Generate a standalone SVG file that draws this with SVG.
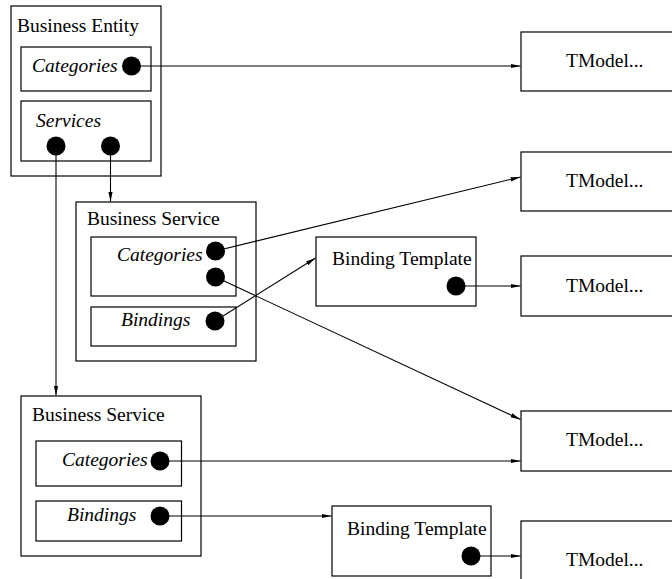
<svg xmlns="http://www.w3.org/2000/svg" width="672" height="579" viewBox="0 0 672 579">
<defs>
<marker id="ah" markerWidth="10" markerHeight="6" refX="10" refY="3" orient="auto" markerUnits="userSpaceOnUse">
<path d="M0,0.8 L10,3 L0,5.2 Z" fill="#000"/>
</marker>
<style>
rect{fill:#fff;stroke:#000;stroke-width:1.2}
.t{font-family:"Liberation Serif","Times New Roman",serif;font-size:19.5px;fill:#000}
.i{font-style:italic}
.d{fill:#000}
.c line{stroke:#000;stroke-width:1.1;marker-end:url(#ah)}
</style>
</defs>
<rect x="0" y="0" width="672" height="579" style="fill:#fff;stroke:none"/>
<g id="business-entity">
<rect x="11" y="6" width="150" height="170"/>
<text class="t" x="17" y="32">Business Entity</text>
<rect x="21" y="47" width="130" height="44"/>
<text class="t i" x="32" y="72">Categories</text>
<circle class="d" cx="131.5" cy="66" r="9.5"/>
<rect x="21" y="101" width="130" height="60"/>
<text class="t i" x="36" y="127">Services</text>
<circle class="d" cx="56" cy="146" r="9.5"/>
<circle class="d" cx="110.5" cy="146" r="9.5"/>
</g>
<g id="business-service-1">
<rect x="76" y="202" width="180" height="159"/>
<text class="t" x="87" y="225">Business Service</text>
<rect x="91" y="237" width="145" height="59"/>
<text class="t i" x="117" y="261">Categories</text>
<circle class="d" cx="215.5" cy="251" r="9.5"/>
<circle class="d" cx="215.5" cy="277" r="9.5"/>
<rect x="91" y="307" width="145" height="39"/>
<text class="t i" x="121" y="326">Bindings</text>
<circle class="d" cx="215" cy="321" r="9.5"/>
</g>
<g id="binding-template-1">
<rect x="316" y="237" width="160" height="69"/>
<text class="t" x="332" y="265">Binding Template</text>
<circle class="d" cx="456" cy="286" r="9.5"/>
</g>
<g id="business-service-2">
<rect x="21" y="396" width="180" height="160"/>
<text class="t" x="32" y="421">Business Service</text>
<rect x="36" y="441" width="145.5" height="45"/>
<text class="t i" x="62" y="466">Categories</text>
<circle class="d" cx="160" cy="461" r="9.5"/>
<rect x="36" y="501" width="145.5" height="40"/>
<text class="t i" x="67" y="521">Bindings</text>
<circle class="d" cx="160" cy="516" r="9.5"/>
</g>
<g id="binding-template-2">
<rect x="332" y="506" width="159" height="70"/>
<text class="t" x="347" y="535">Binding Template</text>
<circle class="d" cx="471" cy="556" r="9.5"/>
</g>
<g id="tmodel-1"><rect x="521" y="32" width="160" height="59"/><text class="t" x="566" y="67">TModel...</text></g>
<g id="tmodel-2"><rect x="521" y="152" width="160" height="59"/><text class="t" x="566" y="187">TModel...</text></g>
<g id="tmodel-3"><rect x="521" y="256" width="160" height="60"/><text class="t" x="566" y="292">TModel...</text></g>
<g id="tmodel-4"><rect x="521" y="411" width="160" height="60"/><text class="t" x="566" y="446">TModel...</text></g>
<g id="tmodel-5"><rect x="521" y="521" width="160" height="70"/><text class="t" x="566" y="566">TModel...</text></g>
<g id="connectors" class="c">
<line x1="131.5" y1="66" x2="520.5" y2="66"/>
<line x1="56" y1="146" x2="56" y2="395.5"/>
<line x1="110.5" y1="146" x2="110.5" y2="201.5"/>
<line x1="215.5" y1="251" x2="520.5" y2="177"/>
<line x1="215.5" y1="277" x2="520.5" y2="419.5"/>
<line x1="215" y1="321" x2="315.5" y2="258"/>
<line x1="456" y1="286" x2="520.5" y2="286"/>
<line x1="160" y1="461" x2="520.5" y2="461"/>
<line x1="160" y1="516" x2="331.5" y2="516"/>
<line x1="471" y1="556" x2="520.5" y2="556"/>
</g>
</svg>
